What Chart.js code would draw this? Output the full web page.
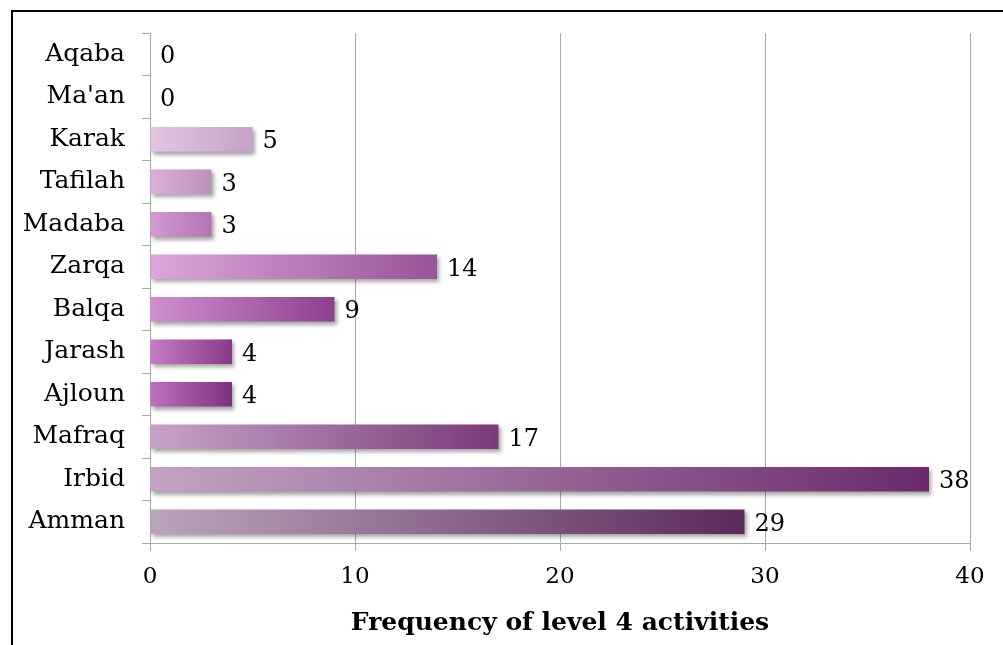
<!DOCTYPE html>
<html>
<head>
<meta charset="utf-8">
<script src="https://cdn.jsdelivr.net/npm/chart.js@4/dist/chart.umd.min.js"></script>
<style>
  html, body { margin: 0; padding: 0; background: #fff; }
  #wrap { width: 1003px; height: 645px; position: relative; }
</style>
</head>
<body>
<div id="wrap"><canvas id="level4"></canvas></div>
<script>
const regions = ['Aqaba', "Ma'an", 'Karak', 'Tafilah', 'Madaba', 'Zarqa', 'Balqa', 'Jarash', 'Ajloun', 'Mafraq', 'Irbid', 'Amman'];
const activities = [0, 0, 5, 3, 3, 14, 9, 4, 4, 17, 38, 29];
const xTicks = [0, 10, 20, 30, 40];

// left (light) and right (dark) end of each bar's gradient
const barLight = ['#e2c6e2', '#e2c6e2', '#e2c6e2', '#dcb0dc', '#d29ad2', '#dca6dc', '#cf90cf', '#c67cc6', '#be72be', '#c7a3c7', '#c2a4c2', '#bba5bb'];
const barDark = ['#c6a2c6', '#c6a2c6', '#c6a2c6', '#bb90bb', '#b474b4', '#985498', '#8e408e', '#873a87', '#7b317b', '#7a3a7a', '#6c2a6c', '#5c2a5c'];

const serif = '"DejaVu Serif", Georgia, serif';

function barFill(ctx) {
  const chart = ctx.chart;
  const xs = chart.scales.x;
  const i = ctx.dataIndex;
  if (ctx.type !== 'data' || !xs) return barDark[i] || '#999';
  const x0 = xs.getPixelForValue(0);
  const x1 = xs.getPixelForValue(activities[i]);
  if (!isFinite(x0) || !isFinite(x1) || x1 - x0 < 1) return barDark[i];
  const g = chart.ctx.createLinearGradient(x0, 0, x1, 0);
  g.addColorStop(0, barLight[i]);
  g.addColorStop(1, barDark[i]);
  return g;
}

const framePlugin = {
  id: 'frame',
  beforeDraw(chart) {
    const c = chart.ctx;
    c.save();
    c.fillStyle = '#fff';
    c.fillRect(0, 0, chart.width, chart.height);
    c.strokeStyle = '#000';
    c.lineWidth = 2;
    c.beginPath();
    c.moveTo(12, chart.height);
    c.lineTo(12, 11);
    c.lineTo(chart.width, 11);
    c.stroke();
    c.restore();
  }
};

const shadowPlugin = {
  id: 'barShadow',
  beforeDatasetsDraw(chart) {
    const c = chart.ctx;
    c.save();
    c.shadowColor = 'rgba(0,0,0,0.35)';
    c.shadowOffsetX = 2;
    c.shadowOffsetY = 3;
    c.shadowBlur = 4;
  },
  afterDatasetsDraw(chart) {
    chart.ctx.restore();
  }
};

const valueLabels = {
  id: 'valueLabels',
  afterDraw(chart) {
    const c = chart.ctx;
    const meta = chart.getDatasetMeta(0);
    c.save();
    c.font = '24px ' + serif;
    c.fillStyle = '#000';
    c.textAlign = 'left';
    c.textBaseline = 'middle';
    meta.data.forEach((bar, i) => {
      c.fillText(String(activities[i]), bar.x + 10, bar.y + 3);
    });
    c.restore();
  }
};

new Chart(document.getElementById('level4'), {
  type: 'bar',
  data: {
    labels: regions,
    datasets: [{
      data: activities,
      backgroundColor: barFill,
      borderWidth: 0,
      categoryPercentage: 1,
      barPercentage: 0.58
    }]
  },
  options: {
    indexAxis: 'y',
    responsive: true,
    maintainAspectRatio: false,
    animation: false,
    layout: { padding: { top: 33, right: 33, left: 0, bottom: 0 } },
    plugins: {
      legend: { display: false },
      tooltip: { enabled: false }
    },
    scales: {
      x: {
        min: 0,
        max: 40,
        afterBuildTicks(scale) { scale.ticks = xTicks.map(v => ({ value: v })); },
        afterFit(scale) { scale.height = 102; },
        grid: { color: '#a9a9a9', tickLength: 8, lineWidth: 1 },
        border: { color: '#a9a9a9' },
        ticks: { color: '#000', padding: 12, font: { family: serif, size: 23 } },
        title: {
          display: true,
          text: 'Frequency of level 4 activities',
          color: '#000',
          font: { family: serif, size: 25, weight: 'bold' },
          padding: { top: 0, bottom: 7 }
        }
      },
      y: {
        afterFit(scale) { scale.width = 150; },
        grid: { drawOnChartArea: false, drawTicks: true, tickLength: 8, color: '#a9a9a9', offset: true },
        border: { color: '#a9a9a9' },
        ticks: { color: '#000', padding: 17, font: { family: serif, size: 25 } }
      }
    }
  },
  plugins: [framePlugin, shadowPlugin, valueLabels]
});
</script>
</body>
</html>
